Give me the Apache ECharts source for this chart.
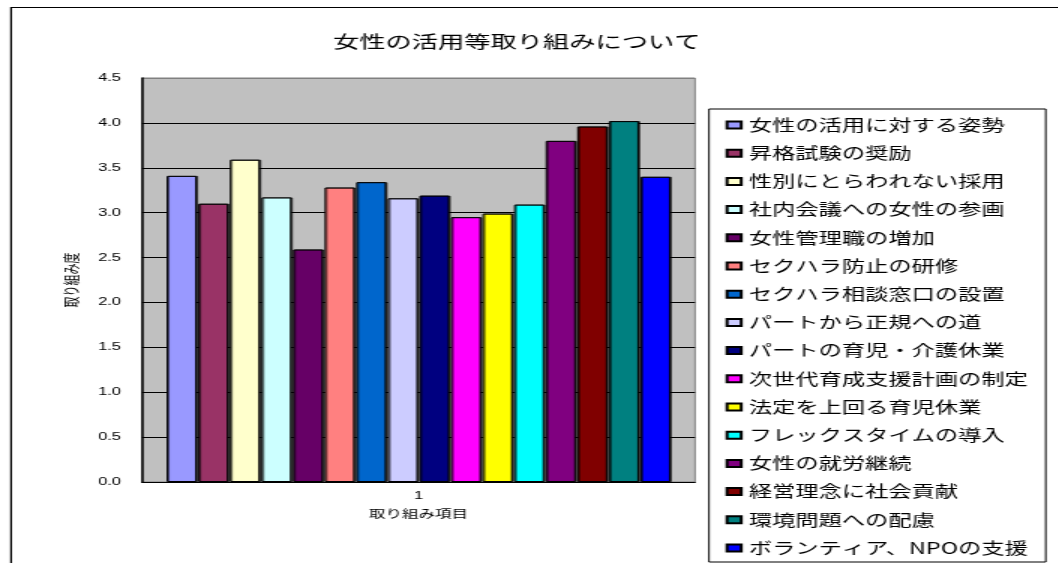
<!DOCTYPE html>
<html>
<head>
<meta charset="utf-8">
<script src="https://cdn.jsdelivr.net/npm/echarts@6/dist/echarts.min.js"></script>
<style>
  html, body { margin: 0; padding: 0; background: #fff; overflow: hidden; }
  /* the original export is stretched horizontally, so draw narrow and stretch */
  #chart { width: 705.33px; height: 563px; transform: scaleX(1.5); transform-origin: 0 0; }
</style>
</head>
<body>
<div id="chart"></div>
<script>
const categories = ['1']
const itemNames = [
  '女性の活用に対する姿勢',
  '昇格試験の奨励',
  '性別にとらわれない採用',
  '社内会議への女性の参画',
  '女性管理職の増加',
  'セクハラ防止の研修',
  'セクハラ相談窓口の設置',
  'パートから正規への道',
  'パートの育児・介護休業',
  '次世代育成支援計画の制定',
  '法定を上回る育児休業',
  'フレックスタイムの導入',
  '女性の就労継続',
  '経営理念に社会貢献',
  '環境問題への配慮',
  'ボランティア、NPOの支援'
]
const itemValues = [3.41, 3.10, 3.59, 3.17, 2.59, 3.28, 3.34, 3.16, 3.19, 2.95, 2.99, 3.09, 3.80, 3.96, 4.02, 3.40]
const itemColors = [
  '#9999FF', '#993366', '#FFFFCC', '#CCFFFF', '#660066', '#FF8080', '#0066CC', '#CCCCFF',
  '#000080', '#FF00FF', '#FFFF00', '#00FFFF', '#800080', '#800000', '#008080', '#0000FF'
]
const yTicks = ['0.0', '0.5', '1.0', '1.5', '2.0', '2.5', '3.0', '3.5', '4.0', '4.5']

const jp = '"Noto Sans CJK JP", sans-serif'
const num = '"Liberation Sans", Arial, sans-serif'

const chart = echarts.init(document.getElementById('chart'), undefined, { renderer: 'canvas' })

const series = itemNames.map((name, i) => ({
  name,
  type: 'bar',
  data: [itemValues[i]],
  barGap: '5%',
  barCategoryGap: '8.9%',
  itemStyle: {
    color: itemColors[i],
    borderColor: '#000',
    borderWidth: 1,
    shadowColor: 'rgba(0, 0, 0, 0.6)',
    shadowOffsetX: 1,
    shadowOffsetY: 0,
    shadowBlur: 0
  }
}))

chart.setOption({
  backgroundColor: '#fff',
  animation: false,
  color: itemColors,
  title: {
    text: '女性の活用等取り組みについて',
    left: 217,
    top: 28,
    textStyle: { fontFamily: jp, fontSize: 17.5, fontWeight: 'normal', color: '#000' }
  },
  graphic: [
    {
      type: 'rect',
      left: 4.9,
      top: 5,
      shape: { width: 760, height: 620 },
      style: { fill: 'none', stroke: '#000', lineWidth: 1.2 },
      silent: true
    }
  ],
  grid: {
    left: 94.67,
    top: 78,
    width: 368.67,
    height: 404,
    show: true,
    backgroundColor: '#C0C0C0',
    borderColor: '#808080',
    borderWidth: 1
  },
  legend: {
    orient: 'vertical',
    left: 472.67,
    top: 109,
    padding: [7, 12, 5, 11],
    itemWidth: 9.5,
    itemHeight: 7,
    itemGap: 10.2,
    icon: 'rect',
    backgroundColor: '#fff',
    borderColor: '#000',
    borderWidth: 1,
    textStyle: { fontFamily: jp, fontSize: 15.5, lineHeight: 18, color: '#000' }
  },
  xAxis: {
    type: 'category',
    data: categories,
    name: '取り組み項目',
    nameLocation: 'middle',
    nameGap: 26,
    nameTextStyle: { fontFamily: jp, fontSize: 11, color: '#000' },
    axisLine: { lineStyle: { color: '#000', width: 1 } },
    axisTick: { show: false },
    axisLabel: { fontFamily: num, fontSize: 11, color: '#000', margin: 8 }
  },
  yAxis: {
    type: 'value',
    min: 0,
    max: 4.5,
    interval: 0.5,
    name: '取り組み度',
    nameLocation: 'middle',
    nameGap: 41,
    nameTextStyle: { fontFamily: jp, fontSize: 11, color: '#000' },
    axisLine: { show: true, lineStyle: { color: '#000', width: 1.5 } },
    axisTick: { show: false },
    axisLabel: {
      fontFamily: num,
      fontSize: 11,
      color: '#000',
      margin: 14,
      formatter: (v) => yTicks[Math.round(v / 0.5)]
    },
    splitLine: {
      lineStyle: {
        color: ['#000', '#000', '#000', '#000', '#000', '#000', '#000', '#000', '#000', '#808080'],
        width: 1
      }
    }
  },
  series
})
</script>
</body>
</html>
